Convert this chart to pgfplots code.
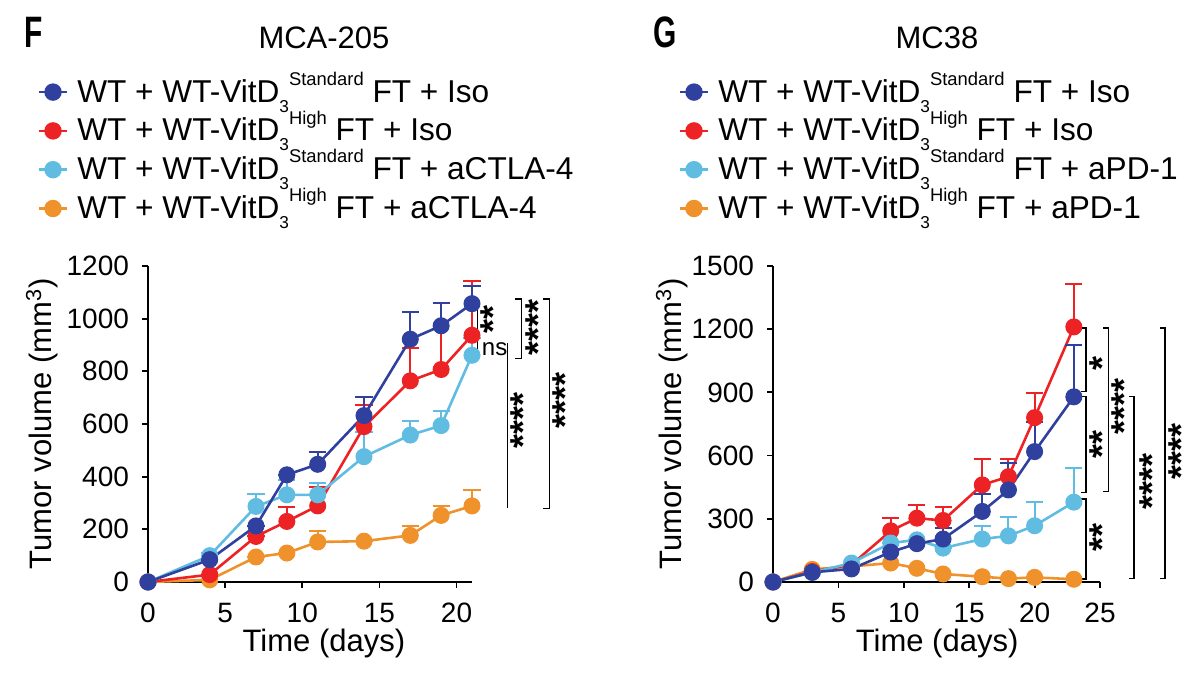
\documentclass[border=0pt]{standalone}
\usepackage{fontspec}
\setmainfont{Liberation Sans}
\usepackage{graphicx}
\usepackage{pgfplots}
\pgfplotsset{compat=1.18}
\definecolor{dblue}{RGB}{48,64,158}
\definecolor{sred}{RGB}{237,34,36}
\definecolor{lblue}{RGB}{97,188,226}
\definecolor{sorange}{RGB}{240,146,44}
\newcommand{\sbs}{\raisebox{-5bp}{\fontsize{8.6bp}{8.6bp}\selectfont 3}}
\newcommand{\sps}[1]{\raisebox{8.4bp}{\fontsize{9.2bp}{9.2bp}\selectfont #1}}
\newcommand{\lt}[2]{WT + WT-VitD\sbs\sps{#1} FT + #2}
\newcommand{\stars}[1]{{\fontsize{18bp}{18bp}\selectfont\bfseries #1}}
% star group: glyph centre placed at the given coordinate
\newcommand{\sg}[3]{\node[rotate=90, anchor=base, inner sep=0pt, text height=4.5bp, text depth=3.2bp] at (axis cs:#1,#2) {\raisebox{-8.7bp}{\stars{#3}}};}
\pgfplotsset{
  ser/.style={color=#1, line width=1.3bp, mark=*, mark size=4bp,
    mark options={solid, fill=#1, line width=0.5bp},
    /pgfplots/error bars/y dir=plus, /pgfplots/error bars/y explicit,
    /pgfplots/error bars/error bar style={line width=1bp, color=#1},
    /pgfplots/error bars/error mark options={rotate=90, mark size=4.25bp, line width=1bp, color=#1}},
  limg/.style={color=#1, line width=1.3bp, mark=*, mark size=3.7bp, mark options={fill=#1}},
  myaxis/.style={
    scale only axis, height=158bp,
    axis x line*=bottom, axis y line*=left,
    axis line style={line width=0.9bp, -},
    every tick/.style={line width=0.9bp, black},
    tick align=outside, major tick length=3bp,
    xmin=0, ymin=0, clip=false,
    tick label style={font=\fontsize{14bp}{14bp}\selectfont},
    xticklabel style={yshift=-4.2bp},
    yticklabel style={xshift=-3bp},
    /pgf/number format/assume math mode=true,
    /pgf/number format/1000 sep={},
    label style={font=\fontsize{15.5bp}{15.5bp}\selectfont},
    legend cell align=left,
    legend image code/.code={\draw[mark repeat=2,mark phase=2,##1] plot coordinates {(0bp,1.5bp) (7bp,1.5bp) (14bp,1.5bp)};},
    legend style={anchor=north west, draw=none, fill=none, inner sep=0pt,
      row sep=4.4bp, column sep=4.5bp, font=\fontsize{15.8bp}{15.8bp}\selectfont,
      nodes={inner sep=0pt, text height=11bp, text depth=4bp}},
  }
}
\begin{document}
\begin{tikzpicture}
\useasboundingbox (0,0) rectangle (600bp,341.5bp);
% ---------------- Panel F ----------------
\begin{axis}[myaxis, at={(74bp,50.5bp)}, anchor=south west, width=162bp,
  xmax=21, ymax=1200, xtick={0,5,10,15,20}, ytick={0,200,...,1200},
  xlabel={Time (days)}, ylabel={Tumor volume (mm\textsuperscript{3})},
  xlabel style={at={(axis description cs:0.543,-0.196)}, anchor=center},
  ylabel style={at={(axis description cs:-0.327,0.5)}, anchor=center},
  legend style={at={(axis description cs:-0.3416,1.5896)}}]
\addlegendimage{limg=dblue}\addlegendentry{\lt{Standard}{Iso}}
\addlegendimage{limg=sred}\addlegendentry{\lt{High}{Iso}}
\addlegendimage{limg=lblue}\addlegendentry{\lt{Standard}{aCTLA-4}}
\addlegendimage{limg=sorange}\addlegendentry{\lt{High}{aCTLA-4}}
\addplot[forget plot, ser=sorange] table[x=x,y=y,y error=e] {
x y e
0 0 0
4 8 0
7 95 0
9 110 0
11 152 40
14 155 0
17 177 36
19 253 34
21 289 61
};
\addplot[forget plot, ser=sred] table[x=x,y=y,y error=e] {
x y e
0 0 0
4 28 0
7 173 0
9 230 54
11 289 73
14 590 82
17 764 126
19 807 254
21 937 206
};
\addplot[forget plot, ser=lblue] table[x=x,y=y,y error=e] {
x y e
0 0 0
4 100 10
7 287 48
9 331 57
11 331 44
14 476 92
17 558 53
19 594 56
21 861 67
};
\addplot[forget plot, ser=dblue] table[x=x,y=y,y error=e] {
x y e
0 0 0
4 85 0
7 213 0
9 407 0
11 447 46
14 632 72
17 922 104
19 973 88
21 1057 67
};
% significance brackets
\draw[line width=0.6bp] (axis cs:21.38,1063) -- (axis cs:21.38,949);
\draw[line width=0.6bp] (axis cs:21.38,930) -- (axis cs:21.38,843);
\sg{22.07}{995}{**}
\node[inner sep=0pt, anchor=west, font=\fontsize{12bp}{12bp}\selectfont] at (axis cs:21.62,883) {ns};
\draw[line width=0.6bp] ([xshift=-3bp]axis cs:24.19,1075) -- (axis cs:24.19,1075) -- (axis cs:24.19,849) -- ([xshift=-3bp]axis cs:24.19,849);
\sg{24.98}{968}{****}
\draw[line width=0.6bp] (axis cs:23.32,906) -- (axis cs:23.32,280);
\sg{24.0}{615}{****}
\draw[line width=0.6bp] ([xshift=-3bp]axis cs:26.02,1075) -- (axis cs:26.02,1075) -- (axis cs:26.02,280) -- ([xshift=-3bp]axis cs:26.02,280);
\sg{26.7}{691}{****}
\end{axis}
% ---------------- Panel G ----------------
\begin{axis}[myaxis, at={(386.5bp,50.5bp)}, anchor=south west, width=163.5bp,
  xmax=25, ymax=1500, xtick={0,5,...,25}, ytick={0,300,...,1500},
  xlabel={Time (days)}, ylabel={Tumor volume (mm\textsuperscript{3})},
  xlabel style={at={(axis description cs:0.502,-0.196)}, anchor=center},
  ylabel style={at={(axis description cs:-0.309,0.5)}, anchor=center},
  legend style={at={(axis description cs:-0.2896,1.5896)}}]
\addlegendimage{limg=dblue}\addlegendentry{\lt{Standard}{Iso}}
\addlegendimage{limg=sred}\addlegendentry{\lt{High}{Iso}}
\addlegendimage{limg=lblue}\addlegendentry{\lt{Standard}{aPD-1}}
\addlegendimage{limg=sorange}\addlegendentry{\lt{High}{aPD-1}}
\addplot[forget plot, ser=sorange] table[x=x,y=y,y error=e] {
x y e
0 0 0
3 60 0
6 74 0
9 90 0
11 65 0
13 38 0
16 25 0
18 16 0
20 22 0
23 13 0
};
\addplot[forget plot, ser=sred] table[x=x,y=y,y error=e] {
x y e
0 0 0
3 50 0
6 82 0
9 243 63
11 303 63
13 292 66
16 461 123
18 500 84
20 780 115
23 1211 202
};
\addplot[forget plot, ser=lblue] table[x=x,y=y,y error=e] {
x y e
0 0 0
3 45 0
6 90 0
9 185 0
11 200 0
13 161 0
16 204 60
18 219 89
20 267 112
23 379 164
};
\addplot[forget plot, ser=dblue] table[x=x,y=y,y error=e] {
x y e
0 0 0
3 46 0
6 62 0
9 142 0
11 182 0
13 204 52
16 335 83
18 437 127
20 619 142
23 879 245
};
% significance brackets
\draw[line width=0.6bp] ([xshift=-2.5bp]axis cs:23.93,1206) -- (axis cs:23.93,1206) -- (axis cs:23.93,905) -- ([xshift=-2.5bp]axis cs:23.93,905);
\sg{24.77}{1038}{*}
\draw[line width=0.6bp] ([xshift=-2.5bp]axis cs:23.93,882) -- (axis cs:23.93,882) -- (axis cs:23.93,423) -- ([xshift=-2.5bp]axis cs:23.93,423);
\sg{24.77}{654}{**}
\draw[line width=0.6bp] ([xshift=-2.5bp]axis cs:23.93,394) -- (axis cs:23.93,394) -- (axis cs:23.93,14) -- ([xshift=-2.5bp]axis cs:23.93,14);
\sg{24.77}{213}{**}
\draw[line width=0.6bp] ([xshift=-2.5bp]axis cs:25.64,1206) -- (axis cs:25.64,1206) -- (axis cs:25.64,428) -- ([xshift=-2.5bp]axis cs:25.64,428);
\sg{26.45}{834}{****}
\draw[line width=0.6bp] ([xshift=-2.5bp]axis cs:27.6,879) -- (axis cs:27.6,879) -- (axis cs:27.6,17) -- ([xshift=-2.5bp]axis cs:27.6,17);
\sg{28.63}{476}{****}
\draw[line width=0.6bp] ([xshift=-2.5bp]axis cs:29.97,1206) -- (axis cs:29.97,1206) -- (axis cs:29.97,17) -- ([xshift=-2.5bp]axis cs:29.97,17);
\sg{30.8}{621}{****}
\end{axis}
% ---------------- titles ----------------
\node[inner sep=0pt, font=\fontsize{15.5bp}{15.5bp}\selectfont] at (162bp,322.75bp) {MCA-205};
\node[inner sep=0pt, font=\fontsize{15.5bp}{15.5bp}\selectfont] at (468.5bp,322.75bp) {MC38};
\node[inner sep=0pt, font=\fontsize{22bp}{22bp}\selectfont\bfseries] at (16.9bp,325.25bp) {\scalebox{0.68}[1]{F}};
\node[inner sep=0pt, font=\fontsize{22bp}{22bp}\selectfont\bfseries] at (332.5bp,325.25bp) {\scalebox{0.68}[1]{G}};
\end{tikzpicture}
\end{document}
